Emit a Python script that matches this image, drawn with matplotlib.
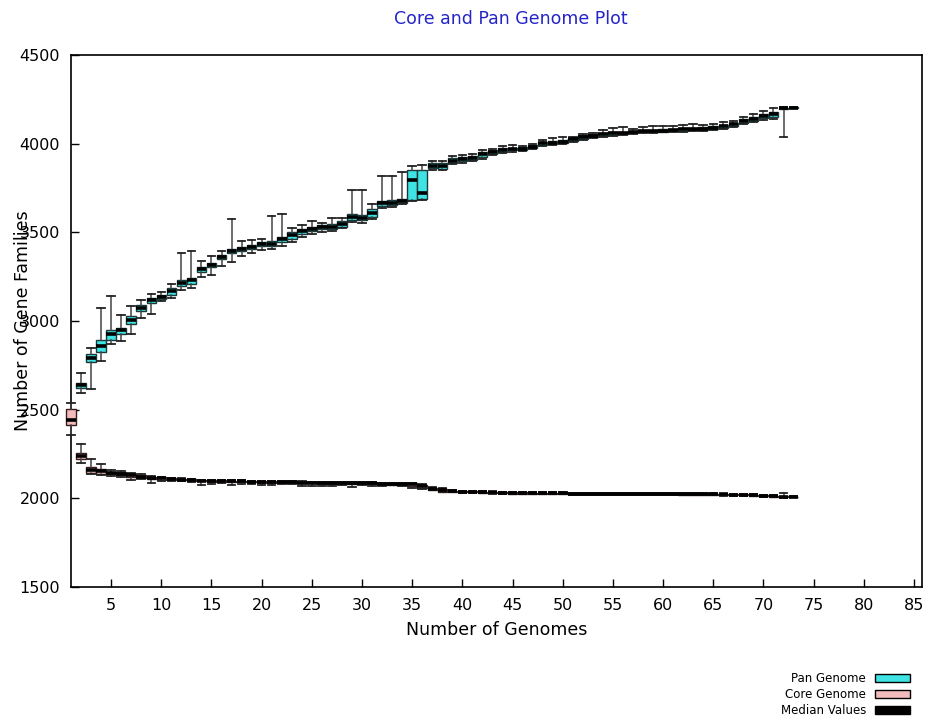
import matplotlib
matplotlib.use("Agg")
import matplotlib.pyplot as plt
from matplotlib.patches import Rectangle

# ---------------- data ----------------
pan_x = list(range(2, 74))
pan_med = [2637, 2790, 2860, 2924, 2948, 3004, 3073, 3116, 3137, 3168, 3216, 3229, 3294, 3318, 3361, 3396,
           3405, 3418, 3435, 3437, 3460, 3483, 3505, 3520, 3528, 3532, 3549, 3588, 3581, 3609, 3664, 3668,
           3678, 3795, 3719, 3875, 3872, 3905, 3912, 3920, 3940, 3953, 3965, 3970, 3972, 3983, 4002, 4006,
           4011, 4024, 4039, 4045, 4053, 4058, 4062, 4065, 4070, 4072, 4074, 4076, 4080, 4082, 4085, 4090,
           4098, 4110, 4128, 4140, 4158, 4165, 4200, 4202]
pan_q1 = [2620, 2770, 2826, 2892, 2929, 2985, 3054, 3101, 3126, 3144, 3195, 3210, 3275, 3303, 3347, 3384,
          3393, 3405, 3425, 3421, 3444, 3463, 3491, 3508, 3518, 3520, 3532, 3571, 3568, 3588, 3650, 3655,
          3668, 3682, 3686, 3860, 3858, 3893, 3900, 3910, 3925, 3943, 3955, 3962, 3965, 3975, 3990, 3997,
          4003, 4015, 4028, 4036, 4045, 4050, 4055, 4058, 4063, 4065, 4068, 4070, 4072, 4075, 4078, 4082,
          4090, 4100, 4118, 4130, 4145, 4150, 4195, 4200]
pan_q3 = [2652, 2815, 2892, 2952, 2963, 3026, 3090, 3129, 3148, 3185, 3229, 3244, 3307, 3328, 3373, 3407,
          3416, 3428, 3445, 3453, 3476, 3504, 3519, 3532, 3540, 3545, 3566, 3604, 3595, 3631, 3678, 3682,
          3690, 3850, 3850, 3893, 3890, 3918, 3922, 3930, 3955, 3963, 3975, 3978, 3980, 3990, 4012, 4015,
          4020, 4032, 4050, 4052, 4060, 4063, 4068, 4070, 4075, 4078, 4080, 4082, 4086, 4090, 4092, 4098,
          4106, 4118, 4138, 4150, 4170, 4178, 4202, 4204]
pan_lo = [2593, 2616, 2774, 2869, 2888, 2929, 3019, 3041, 3110, 3130, 3176, 3188, 3247, 3262, 3309, 3331,
          3369, 3385, 3400, 3405, 3425, 3444, 3472, 3491, 3500, 3505, 3526, 3556, 3550, 3577, 3640, 3645,
          3660, 3678, 3680, 3850, 3850, 3888, 3893, 3900, 3915, 3935, 3950, 3955, 3960, 3970, 3985, 3992,
          3998, 4010, 4022, 4030, 4040, 4045, 4050, 4052, 4060, 4062, 4065, 4066, 4068, 4070, 4072, 4075,
          4082, 4095, 4110, 4120, 4135, 4140, 4040, 4200]
pan_hi = [2705, 2845, 3075, 3140, 3032, 3086, 3116, 3154, 3163, 3207, 3382, 3397, 3341, 3369, 3397, 3575,
          3453, 3455, 3465, 3594, 3603, 3522, 3543, 3562, 3550, 3581, 3581, 3738, 3738, 3660, 3818, 3818,
          3843, 3875, 3880, 3905, 3900, 3930, 3935, 3942, 3965, 3972, 3985, 3990, 3985, 3998, 4022, 4030,
          4035, 4040, 4052, 4058, 4078, 4090, 4095, 4085, 4095, 4098, 4100, 4100, 4105, 4112, 4105, 4112,
          4120, 4130, 4150, 4165, 4185, 4200, 4205, 4204]

core_x = list(range(1, 74))
core_med = [2440, 2236, 2160, 2155, 2142, 2140, 2130, 2122, 2115, 2112, 2108, 2105, 2102, 2100, 2098, 2097,
            2096, 2095, 2094, 2093, 2092, 2091, 2090, 2089, 2088, 2087, 2086, 2086, 2085, 2084, 2084, 2083,
            2082, 2081, 2080, 2068, 2055, 2045, 2040, 2038, 2036, 2035, 2033, 2031, 2030, 2030, 2029, 2029,
            2028, 2028, 2027, 2027, 2027, 2026, 2026, 2026, 2026, 2025, 2025, 2025, 2025, 2024, 2024, 2024,
            2023, 2022, 2021, 2019, 2017, 2015, 2012, 2010, 2008]
core_q1 = [2412, 2219, 2144, 2140, 2136, 2133, 2122, 2115, 2110, 2106, 2104, 2101, 2098, 2096, 2094, 2093,
           2092, 2091, 2090, 2089, 2088, 2087, 2086, 2085, 2084, 2083, 2082, 2082, 2081, 2080, 2080, 2079,
           2078, 2077, 2070, 2060, 2048, 2037, 2036, 2035, 2033, 2032, 2030, 2028, 2027, 2027, 2026, 2026,
           2025, 2025, 2024, 2024, 2024, 2023, 2023, 2023, 2023, 2022, 2022, 2022, 2022, 2021, 2021, 2021,
           2020, 2019, 2018, 2016, 2014, 2012, 2009, 2007, 2006]
core_q3 = [2506, 2256, 2177, 2168, 2150, 2148, 2136, 2130, 2122, 2118, 2113, 2110, 2107, 2104, 2102, 2101,
           2100, 2099, 2098, 2097, 2096, 2095, 2094, 2093, 2092, 2091, 2090, 2090, 2089, 2088, 2088, 2087,
           2086, 2085, 2084, 2078, 2060, 2052, 2044, 2041, 2039, 2038, 2036, 2034, 2033, 2033, 2032, 2032,
           2031, 2031, 2030, 2030, 2030, 2029, 2029, 2029, 2029, 2028, 2028, 2028, 2028, 2027, 2027, 2027,
           2026, 2025, 2024, 2022, 2020, 2018, 2015, 2013, 2010]
core_lo = [2356, 2200, 2140, 2131, 2128, 2118, 2106, 2108, 2087, 2098, 2098, 2095, 2092, 2074, 2080, 2085,
           2076, 2080, 2082, 2078, 2076, 2080, 2080, 2070, 2070, 2070, 2068, 2075, 2066, 2075, 2070, 2068,
           2075, 2072, 2058, 2055, 2045, 2035, 2034, 2030, 2030, 2029, 2027, 2025, 2024, 2024, 2023, 2023,
           2022, 2022, 2021, 2021, 2021, 2020, 2020, 2018, 2018, 2019, 2019, 2019, 2017, 2018, 2018, 2018,
           2017, 2015, 2015, 2013, 2011, 2009, 2006, 2004, 2005]
core_hi = [2536, 2309, 2219, 2191, 2160, 2152, 2142, 2135, 2126, 2122, 2117, 2114, 2110, 2106, 2104, 2103,
           2102, 2101, 2100, 2099, 2098, 2097, 2096, 2095, 2094, 2093, 2092, 2092, 2091, 2090, 2090, 2089,
           2088, 2087, 2086, 2082, 2065, 2056, 2046, 2043, 2041, 2040, 2038, 2036, 2035, 2035, 2034, 2034,
           2033, 2033, 2032, 2032, 2032, 2031, 2031, 2031, 2031, 2030, 2030, 2030, 2030, 2029, 2029, 2029,
           2028, 2027, 2026, 2024, 2022, 2020, 2017, 2030, 2012]

x_ticks = [5, 10, 15, 20, 25, 30, 35, 40, 45, 50, 55, 60, 65, 70, 75, 80, 85]
y_ticks = [1500, 2000, 2500, 3000, 3500, 4000, 4500]
legend_labels = ["Pan Genome", "Core Genome", "Median Values"]

PAN_COLOR = "#3fe3e3"
CORE_COLOR = "#f2bcbc"
TITLE_COLOR = "#2424c8"

# ---------------- figure ----------------
fig = plt.figure(figsize=(9.36, 7.22), dpi=100)
ax = fig.add_axes([71 / 936, 1 - 587 / 722, (922 - 71) / 936, (587 - 55) / 722])


def make_stats(med, q1, q3, lo, hi):
    return [dict(med=m, q1=a, q3=b, whislo=l, whishi=h, fliers=[])
            for m, a, b, l, h in zip(med, q1, q3, lo, hi)]


common = dict(widths=0.95, capwidths=0.75, patch_artist=True, showfliers=False,
              manage_ticks=False,
              whiskerprops=dict(color="#444444", linewidth=1.1),
              capprops=dict(color="#222222", linewidth=1.3),
              medianprops=dict(color="black", linewidth=2.6, solid_capstyle="butt"))

art_pan = ax.bxp(make_stats(pan_med, pan_q1, pan_q3, pan_lo, pan_hi), positions=pan_x,
                 boxprops=dict(facecolor=PAN_COLOR, edgecolor="#1a3a3a", linewidth=1.0), **common)
art_core = ax.bxp(make_stats(core_med, core_q1, core_q3, core_lo, core_hi), positions=core_x,
                  boxprops=dict(facecolor=CORE_COLOR, edgecolor="#3a1a1a", linewidth=1.0), **common)
for arts in (art_pan, art_core):
    for key in ("boxes", "medians", "whiskers", "caps"):
        for a in arts[key]:
            a.set_clip_on(False)

ax.set_xlim(1, 85.8)
ax.set_ylim(1500, 4500)
ax.set_xticks(x_ticks)
ax.set_yticks(y_ticks)
ax.tick_params(direction="in", length=6, width=1, labelsize=11.5, colors="black")
ax.tick_params(axis="x", pad=8)
ax.tick_params(axis="y", pad=8)
for s in ax.spines.values():
    s.set_linewidth(1.2)
    s.set_color("black")
    s.set_zorder(0.5)

fig.text(511 / 936, 1 - 19 / 722, "Core and Pan Genome Plot", color=TITLE_COLOR,
         fontsize=12.5, ha="center", va="center")
ax.set_xlabel("Number of Genomes", fontsize=12.5, labelpad=6)
ax.set_ylabel("Number of Gene Families", fontsize=12.5)
ax.yaxis.label.set_va("center")
ax.yaxis.set_label_coords((23 - 71) / 851, 0.5)

# legend (bottom right, outside axes)
legend_colors = [PAN_COLOR, CORE_COLOR, "black"]
legend_y = [678, 694, 710]
for lab, col, py in zip(legend_labels, legend_colors, legend_y):
    fig.text(866 / 936, 1 - py / 722, lab, ha="right", va="center", fontsize=8.5)
    fig.patches.append(Rectangle((875 / 936, 1 - (py + 4) / 722), 35 / 936, 8 / 722,
                                 transform=fig.transFigure, facecolor=col,
                                 edgecolor="black", linewidth=1.0))

fig.savefig("out.png", dpi=100)
